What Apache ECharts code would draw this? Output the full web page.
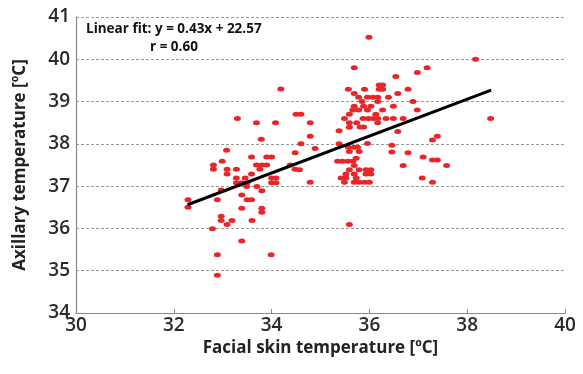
<!DOCTYPE html>
<html>
<head>
<meta charset="utf-8">
<script src="https://cdn.jsdelivr.net/npm/echarts@6/dist/echarts.min.js"></script>
<style>
  html, body { margin: 0; padding: 0; background: #fff; }
  #box { width: 583px; height: 374px; }
</style>
</head>
<body>
<div id="box"></div>
<script>
// facial skin temp (x), axillary temp (y)
let facial = [
	32.29, 32.29, 32.89, 32.97, 32.97, 32.97, 33.09, 33.19, 33.39, 33.39,
	33.50, 33.59, 33.60, 33.70, 33.80, 33.80, 33.80, 32.79, 33.39, 32.89,
	33.99, 32.89, 32.81, 32.81, 32.99, 33.09, 33.09, 33.28, 33.28, 33.28,
	33.39, 33.46, 33.50, 33.59, 33.49, 33.59, 33.90, 34.00, 33.69, 33.80,
	33.90, 33.76, 34.00, 34.00, 34.09, 34.09, 34.38, 34.48, 34.48, 33.08,
	34.19, 33.30, 33.69, 34.08, 33.79,
	34.50, 34.60, 34.79, 34.79, 34.60, 34.89, 34.57, 34.79,
	35.99, 35.69, 35.38, 35.57, 35.69, 35.90, 36.20, 36.27, 36.20, 36.27,
	35.78, 35.96, 36.07, 36.17, 35.85, 35.69, 35.78, 35.88, 35.96, 36.03,
	36.17, 36.27, 36.39, 36.49, 35.49, 35.59, 35.66, 35.59, 35.59, 35.74,
	35.81, 35.88, 35.87, 35.98, 36.08, 36.13, 36.17, 36.17, 36.34, 36.49,
	35.96, 35.38, 35.57, 35.69, 35.76, 35.59, 35.79, 36.46, 36.46, 36.54,
	35.35, 35.45, 35.56, 35.66, 35.73, 35.69, 35.59, 35.79, 35.93, 36.03,
	35.52, 35.69, 35.93, 36.03, 35.42, 35.52, 35.73, 35.49, 35.69, 35.79,
	35.90, 36.00, 35.59,
	38.17, 36.98, 37.18, 36.58, 36.79, 36.89, 36.98, 36.69, 38.48, 36.58,
	37.39, 37.29, 36.79, 37.10, 37.29, 37.39, 37.58, 36.69, 37.08, 37.29
];
let axillary = [
	36.68, 36.50, 36.68, 36.91, 36.29, 36.19, 36.09, 36.19, 36.48, 36.79,
	36.68, 36.68, 36.19, 36.99, 36.89, 36.48, 36.38, 35.99, 35.70, 35.38,
	35.38, 34.89, 37.50, 37.40, 37.59, 37.40, 37.29, 37.40, 37.19, 37.08,
	37.08, 37.19, 37.08, 37.29, 36.99, 37.69, 37.69, 37.69, 37.50, 37.50,
	37.50, 37.40, 37.19, 37.08, 37.19, 37.08, 37.50, 37.79, 37.40, 37.85,
	39.30, 38.60, 38.50, 38.50, 38.11,
	38.70, 38.70, 38.50, 38.18, 38.00, 37.89, 37.39, 37.09,
	40.52, 39.80, 38.31, 39.29, 39.19, 39.29, 39.39, 39.39, 39.29, 39.29,
	39.10, 39.10, 39.10, 39.10, 39.00, 38.89, 38.80, 38.89, 38.80, 38.89,
	39.00, 38.80, 39.10, 38.89, 38.60, 38.70, 38.80, 38.50, 38.39, 38.50,
	38.40, 38.40, 38.60, 38.60, 38.60, 38.70, 38.60, 38.50, 38.60, 38.60,
	38.01, 38.00, 37.92, 37.92, 37.92, 37.82, 37.82, 37.97, 37.81, 39.59,
	37.59, 37.59, 37.59, 37.59, 37.66, 37.49, 37.39, 37.39, 37.39, 37.39,
	37.29, 37.29, 37.29, 37.29, 37.19, 37.19, 37.19, 37.09, 37.09, 37.09,
	37.09, 37.09, 36.09,
	40.00, 39.69, 39.80, 39.19, 39.29, 39.00, 38.80, 38.60, 38.60, 38.29,
	38.18, 38.09, 37.79, 37.69, 37.62, 37.62, 37.49, 37.49, 37.19, 37.09
];
// fitted line ends, as drawn
let fitX = [32.28, 38.49];
let fitY = [36.56, 39.27];
let xTicks = [30, 40, 2];
let yTicks = [34, 41, 1];

let pts = facial.map(function(v, i) { return [v, axillary[i]]; });
let fit = fitX.map(function(v, i) { return [v, fitY[i]]; });

let app = echarts.init(document.getElementById('box'));
let labelFont = {
	fontFamily: 'Open Sans',
	fontWeight: 600,
	fontSize: 19,
	color: '#2a2a2a'
};
let nameFont = {
	fontFamily: 'Open Sans',
	fontWeight: 700,
	fontSize: 17,
	color: '#222'
};
let option = {
	animation: false,
	grid: {
		left: 76,
		right: 18,
		top: 17,
		bottom: 61
	},
	graphic: [{
		type: 'text',
		left: 86,
		top: 22,
		style: {
			text: 'Linear fit: y = 0.43x + 22.57',
			fontFamily: 'Open Sans',
			fontWeight: 700,
			fontSize: 13.5,
			fill: '#111'
		}
	}, {
		type: 'text',
		left: 150,
		top: 40,
		style: {
			text: 'r = 0.60',
			fontFamily: 'Open Sans',
			fontWeight: 700,
			fontSize: 13.5,
			fill: '#111'
		}
	}],
	xAxis: {
		type: 'value',
		min: xTicks[0],
		max: xTicks[1],
		interval: xTicks[2],
		name: 'Facial skin temperature [ºC]',
		nameLocation: 'middle',
		nameGap: 25,
		nameTextStyle: nameFont,
		axisLine: {
			lineStyle: { color: '#888', width: 1.2 }
		},
		axisTick: {
			show: true,
			inside: true,
			length: 4,
			lineStyle: { color: '#888' }
		},
		axisLabel: Object.assign({ margin: 3 }, labelFont),
		splitLine: { show: false }
	},
	yAxis: {
		type: 'value',
		min: yTicks[0],
		max: yTicks[1],
		interval: yTicks[2],
		name: 'Axillary temperature [ºC]',
		nameLocation: 'middle',
		nameGap: 47,
		nameTextStyle: nameFont,
		axisLine: {
			show: true,
			lineStyle: { color: '#888', width: 1.2 }
		},
		axisTick: { show: false },
		axisLabel: Object.assign({ margin: 6 }, labelFont),
		splitLine: {
			show: true,
			lineStyle: { color: '#999', type: [3, 2], width: 1 }
		}
	},
	series: [{
		name: 'data',
		type: 'scatter',
		symbol: 'circle',
		symbolSize: [7, 5],
		itemStyle: { color: '#e8262a', opacity: 1 },
		data: pts
	}, {
		name: 'fit',
		type: 'line',
		symbol: 'none',
		lineStyle: { color: '#000', width: 3 },
		data: fit
	}]
};
app.setOption(option);
</script>
</body>
</html>
